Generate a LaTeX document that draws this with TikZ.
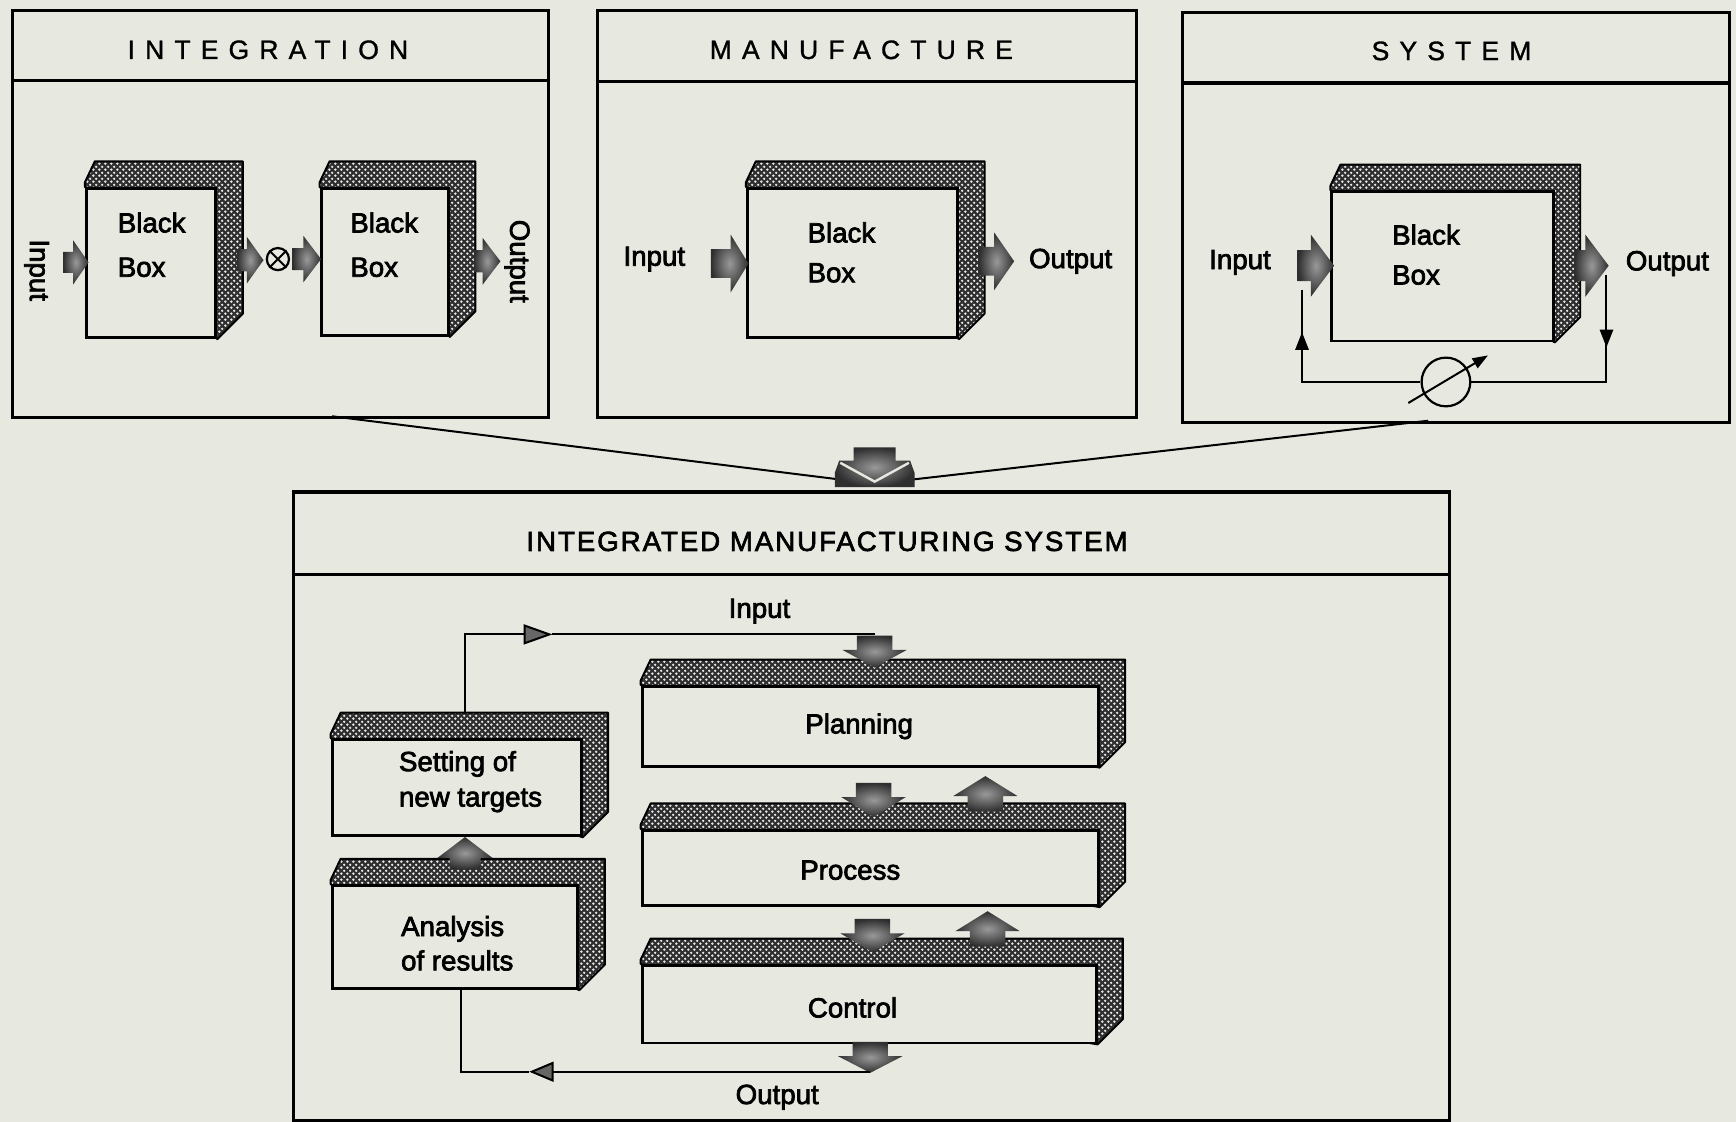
\documentclass[tikz,border=0pt]{standalone}
\usepackage{fontspec}
\setmainfont{Liberation Sans}
\newfontfamily\labf[FakeBold=2.6]{Liberation Sans}
\newfontfamily\ttlf[LetterSpace=38,FakeBold=1.2]{Liberation Sans}
\newfontfamily\bigf[LetterSpace=7,FakeBold=2.4]{Liberation Sans}
\usetikzlibrary{patterns,arrows.meta,decorations.markings,calc}
\definecolor{paper}{RGB}{231,232,224}
\pgfdeclarepatternformonly{bigdots}{\pgfpointorigin}{\pgfpoint{2.6pt}{2.6pt}}{\pgfpoint{2.6pt}{2.6pt}}{%
 \pgfpathcircle{\pgfpoint{0.65pt}{0.65pt}}{0.6pt}%
 \pgfpathcircle{\pgfpoint{1.95pt}{1.95pt}}{0.6pt}%
 \pgfusepath{fill}}
\pgfdeclarelayer{paperlayer}
\pgfdeclarelayer{bandlayer}
\pgfsetlayers{paperlayer,bandlayer,main}
\tikzset{
 panel/.style={draw, line width=1.4pt, inner sep=0pt, anchor=north west},
 front/.style={draw, line width=1.3pt, fill=paper, inner sep=0pt},
 bandfill/.style={preaction={fill=black!82}, pattern=bigdots, pattern color=black!10, draw, line width=0.9pt, line join=round},
 fatfill/.style={shading=radial, inner color=black!40, outer color=black!82},
 conn/.style={line width=0.9pt},
 lbl/.style={font=\labf\fontsize{12.5}{20}\selectfont, inner sep=0pt, align=left},
 ttl/.style={font=\ttlf\fontsize{12}{14}\selectfont, inner sep=0pt},
 bigt/.style={font=\bigf\fontsize{12.5}{14}\selectfont, inner sep=0pt},
 midarrow/.style={postaction=decorate, decoration={markings, mark=at position #1 with {\arrow{Triangle[length=8pt,width=6pt]}}}},
}
\newcommand\band[1]{\begin{pgfonlayer}{bandlayer}\path[bandfill] (#1.north west) -- ([yshift=2pt]#1.north west) -- ([xshift=4.5pt,yshift=11.5pt]#1.north west) -- ([xshift=11.5pt,yshift=11.5pt]#1.north east) -- ([xshift=11.5pt,yshift=11.5pt]#1.south east) -- (#1.south east) -- cycle;\end{pgfonlayer}}
\newcommand\fat[6]{\shade[fatfill,shift={(#1)},rotate=#2] (0pt,-#5) -- (#3,-#5) -- (#3,-#6) -- (#4,0pt) -- (#3,#6) -- (#3,#5) -- (0pt,#5) -- cycle;}
\begin{document}
\begin{tikzpicture}[x=0.5pt,y=-0.5pt]
\begin{pgfonlayer}{paperlayer}
\fill[paper] (0,0) rectangle (1568,1013);
\end{pgfonlayer}
\useasboundingbox (0,0) rectangle (1568,1013);
% panels
\node[panel, minimum width=242pt, minimum height=184pt] (p1) at (10,8) {};
\node[panel, minimum width=243.5pt, minimum height=184pt] (p2) at (538,8) {};
\node[panel, minimum width=247pt, minimum height=185pt] (p3) at (1067,10) {};
\node[panel, minimum width=522pt, minimum height=284pt] (p4) at (264,443) {};
\draw[line width=1.4pt] (10,73) -- (494,73);
\draw[line width=1.4pt] (538,74) -- (1025,74);
\draw[line width=1.4pt] (1067,75) -- (1561,75);
\draw[line width=1.4pt] (264,519) -- (1308,519);
\node[ttl] (t1) at (242,45) {INTEGRATION};
\node[ttl] (t2) at (778,45) {MANUFACTURE};
\node[ttl] (t3) at (1311,46) {SYSTEM};
\node[bigt] (t4) at (747,489) {INTEGRATED MANUFACTURING SYSTEM};
% black boxes
\node[front, minimum width=58.5pt, minimum height=67.5pt] (bb1) at (136.5,237.5) {};
\node[lbl] (bb1t) at (137,221) {Black\\Box};
\node[front, minimum width=57.5pt, minimum height=66.5pt] (bb2) at (347.5,236.5) {};
\node[lbl] (bb2t) at (347,221) {Black\\Box};
\node[front, minimum width=95pt, minimum height=67.5pt] (bbm) at (770,237.5) {};
\node[lbl] (bbmt) at (760,228) {Black\\[-2pt]Box};
\node[front, minimum width=100pt, minimum height=67.5pt] (bbs) at (1303,240.5) {};
\node[lbl] (bbst) at (1288,230) {Black\\[-2pt]Box};
\node[lbl, rotate=-90] (in1t) at (33,244) {Input};
\node[lbl, rotate=-90] (out2t) at (467,236) {Output};
\node[lbl] (inMt) at (591,234) {Input};
\node[lbl] (outMt) at (967,236) {Output};
\node[lbl] (inSt) at (1120,237) {Input};
\node[lbl] (outSt) at (1506,238) {Output};
% bottom boxes
\node[front, minimum width=206pt, minimum height=36pt] (plan) at (786,656) {};
\node[lbl] (plant) at (776,656) {Planning};
\node[front, minimum width=206pt, minimum height=34pt] (proc) at (786,784) {};
\node[lbl] (proct) at (768,786) {Process};
\node[front, minimum width=205pt, minimum height=35pt] (ctrl) at (785,907) {};
\node[lbl] (ctrlt) at (770,910) {Control};
\node[front, minimum width=112.5pt, minimum height=43.5pt] (set) at (412.5,711.5) {};
\node[lbl] (sett) at (425,706) {Setting of\\[-4pt]new targets};
\node[front, minimum width=111pt, minimum height=46.5pt] (ana) at (411,846.5) {};
\node[lbl] (anat) at (413,852) {Analysis\\[-4.5pt]of results};
\node[lbl] (inBt) at (686,552) {Input};
\node[lbl] (outBt) at (702,991) {Output};
\foreach \b in {bb1,bb2,bbm,bbs,plan,proc,ctrl,set,ana}{\band{\b}}
% fat arrows
\fat{57,237}{0}{4.5pt}{11.5pt}{4.75pt}{10pt}
\fat{214,235}{0}{4.5pt}{12pt}{5pt}{10.5pt}
\fat{264,234}{0}{5pt}{13pt}{5pt}{10.5pt}
\fat{428,236}{0}{4pt}{12pt}{5pt}{10.5pt}
\fat{642,238}{0}{9pt}{17pt}{6.5pt}{13pt}
\fat{884,236}{0}{7pt}{16pt}{6.5pt}{13pt}
\fat{1172,240}{0}{6pt}{16.5pt}{7pt}{14pt}
\fat{1422,240}{0}{5pt}{15.5pt}{7pt}{14pt}
\fat{790,574}{-90}{6.5pt}{14.5pt}{8pt}{14.5pt}
\fat{789,707}{-90}{6.5pt}{15.5pt}{8pt}{14.5pt}
\fat{890,733}{90}{7pt}{16pt}{8pt}{14.5pt}
\fat{788,830}{-90}{6.5pt}{15pt}{8pt}{14.5pt}
\fat{892,855}{90}{7pt}{16pt}{8pt}{14.5pt}
\fat{786,941}{-90}{6.5pt}{14pt}{8pt}{14.5pt}
\fat{420,785}{90}{5pt}{14.5pt}{7pt}{12.5pt}
% junction symbol
\node[circle, draw, line width=1pt, minimum size=10pt, inner sep=0pt, fill=paper] (ox) at (251,234) {};
\draw[line width=0.9pt] (ox.north west) -- (ox.south east) (ox.north east) -- (ox.south west);
% system feedback
\node[circle, draw, line width=1pt, minimum size=22pt, inner sep=0pt] (meter) at (1306,345) {};
\coordinate (mA) at (1272,364);
\coordinate (mB) at (1344,321);
\draw[conn,-{Triangle[length=7pt,width=5pt]}] (mA) -- (mB);
\coordinate (fbR) at (1451,248);
\coordinate (fbL) at (1176,262);
\draw[conn, midarrow=0.3] (fbR) |- (meter.east);
\draw[conn, midarrow=0.8] (meter.west) -| (fbL);
% bottom connectors
\coordinate (sIn) at (420,645);
\coordinate (inA) at (499,573);
\coordinate (inB) at (790,573);
\draw[conn,-{Triangle[length=13pt,width=9pt,fill=black!60]}] (sIn) |- (inA);
\draw[conn] (inA) -- (inB);
\coordinate (oB) at (786,968);
\coordinate (oA) at (478,968);
\draw[conn,-{Triangle[length=11pt,width=9pt,fill=black!60]}] (oB) -- (oA);
\draw[conn] (oA) -| ([xshift=2.5pt]ana.south);
% convergence
\coordinate (c1) at (300,376);
\coordinate (c3) at (1290,380);
\coordinate (conv) at (790,437);
\draw[conn] (c1) -- (conv);
\draw[conn] (c3) -- (conv);
\shade[fatfill] (771,404) -- (809,404) -- (809,416) -- (822,416) -- (826,427) -- (826,440) -- (754,440) -- (754,427) -- (758,416) -- (771,416) -- cycle;
\draw[paper, line width=1.1pt] (759,418) -- (790,435) -- (821,418);
\end{tikzpicture}
\end{document}
